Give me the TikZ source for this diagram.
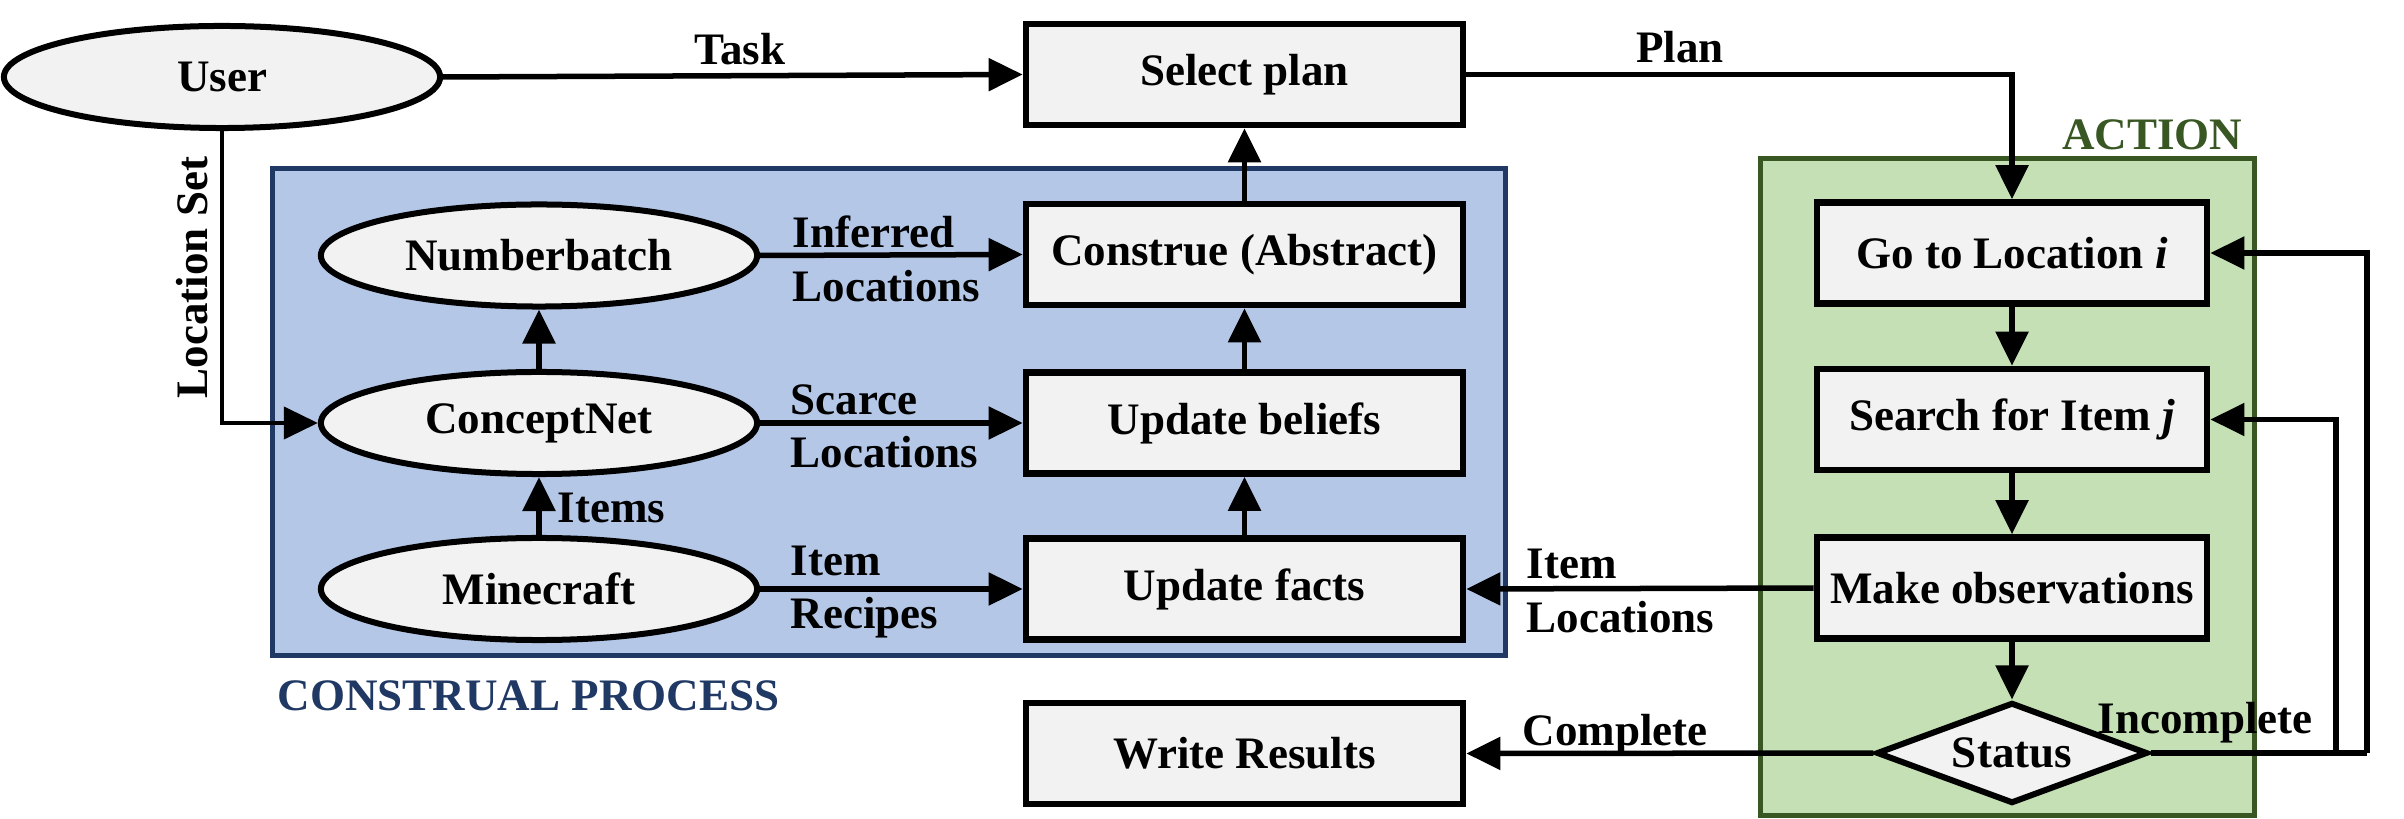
\documentclass[tikz,border=0pt]{standalone}
\usepackage{fontspec}
\setmainfont{Liberation Serif}
\usetikzlibrary{shapes.geometric,arrows.meta}
\definecolor{boxgray}{HTML}{F2F2F2}
\definecolor{bluefill}{HTML}{B4C7E7}
\definecolor{blueline}{HTML}{203864}
\definecolor{greenfill}{HTML}{C5E0B4}
\definecolor{greenline}{HTML}{385723}
\begin{document}
\begin{tikzpicture}[x=0.01cm,y=-0.01cm,
  font=\fontsize{12.8}{15}\selectfont\bfseries,
  box/.style={draw, line width=0.065cm, fill=boxgray, minimum width=4.37cm, minimum height=1.01cm, inner sep=0pt},
  actbox/.style={box, minimum width=3.9cm},
  oval/.style={ellipse, draw, line width=0.06cm, fill=boxgray, minimum width=4.36cm, minimum height=1.02cm, inner sep=0pt},
  conn/.style={line width=0.055cm, -{Triangle[length=0.34cm,width=0.32cm]}},
  thin/.style={line width=0.04cm, -{Triangle[length=0.34cm,width=0.32cm]}},
  plain/.style={line width=0.055cm},
  lab/.style={inner sep=0pt, anchor=base west},
  clab/.style={inner sep=0pt, anchor=base},
]
\useasboundingbox (0,0) rectangle (2404,819);
% group boxes
\draw[line width=0.05cm, draw=blueline, fill=bluefill] (272,169) rectangle (1505,655);
\draw[line width=0.05cm, draw=greenline, fill=greenfill] (1760,159) rectangle (2254,815);
\node[lab, text=blueline] (cplab) at (277,710) {CONSTRUAL PROCESS};
\node[clab, text=greenline] (actlab) at (2152,150) {ACTION};

% nodes
\node[oval] (user) at (222,77) {User};
\node[box] (select) at (1244.5,74.5) {Select plan};
\node[oval] (numb) at (539,255.5) {Numberbatch};
\node[box] (construe) at (1244.5,254.5) {Construe (Abstract)};
\node[oval] (concept) at (539,423) {ConceptNet};
\node[box] (beliefs) at (1244.5,423) {Update beliefs};
\node[oval] (mine) at (539,589) {Minecraft};
\node[box] (facts) at (1244.5,589) {Update facts};
\node[box] (write) at (1244.5,753.5) {Write Results};
\node[actbox] (goto) at (2012,253) {Go to Location \textit{i}};
\node[actbox] (search) at (2012,419.5) {Search for Item \textit{j}};
\node[actbox] (obs) at (2012,588) {Make observations};
\node[diamond, draw, line width=0.06cm, fill=boxgray, shape aspect=2.6, minimum width=2.71cm, minimum height=1.01cm, inner sep=0pt] (status) at (2012,753) {Status};

% connectors
\draw[conn] (user.east) -- (select.west);
\node[clab] (tasklab) at (740,65) {Task};
\draw[conn] (select.east) -| (goto.north);
\node[clab] (planlab) at (1680,63) {Plan};
\draw[thin] (user.south) |- (concept.west);
\node[clab, rotate=90] (locset) at (207,277.5) {Location Set};
\draw[conn] (concept.north) -- (numb.south);
\draw[conn] (mine.north) -- (concept.south);
\node[lab] (itemslab) at (557,523) {Items};
\draw[conn] (numb.east) -- (construe.west);
\node[lab] (inf1) at (792,248) {Inferred};
\node[lab] (inf2) at (792,302) {Locations};
\draw[conn] (concept.east) -- (beliefs.west);
\node[lab] (sc1) at (790,415) {Scarce};
\node[lab] (sc2) at (790,468) {Locations};
\draw[conn] (mine.east) -- (facts.west);
\node[lab] (ir1) at (790,575) {Item};
\node[lab] (ir2) at (790,628) {Recipes};
\draw[conn] (facts.north) -- (beliefs.south);
\draw[conn] (beliefs.north) -- (construe.south);
\draw[conn] (construe.north) -- (select.south);
\draw[conn] (goto.south) -- (search.north);
\draw[conn] (search.south) -- (obs.north);
\draw[conn] (obs.south) -- (status.north);
\draw[conn] (obs.west) -- (facts.east);
\node[lab] (il1) at (1526,578) {Item};
\node[lab] (il2) at (1526,633) {Locations};
\draw[conn] (status.west) -- (write.east);
\node[lab] (complab) at (1522,745) {Complete};
\coordinate (j1) at (2336,753);
\coordinate (j2) at (2367,753);
\draw[plain] (status.east) -- (j2);
\draw[conn] (j2) |- (goto.east);
\draw[conn] (j1) |- (search.east);
\node[clab] (inclab) at (2205,733) {Incomplete};
\end{tikzpicture}
\end{document}
